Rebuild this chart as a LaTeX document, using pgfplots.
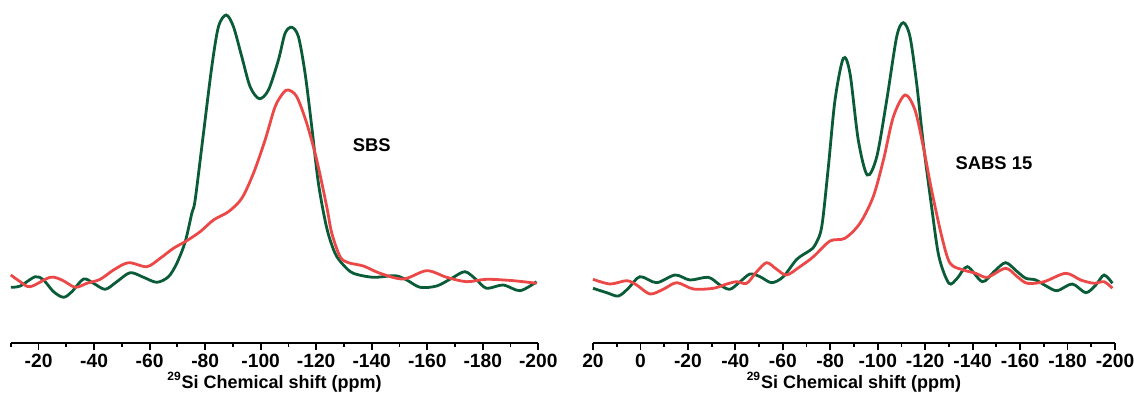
\documentclass[border=0pt]{standalone}
\usepackage{fontspec}
\setmainfont{Liberation Sans}
\usepackage{pgfplots}
\pgfplotsset{compat=1.18}
\definecolor{sgreen}{RGB}{10,92,56}
\definecolor{sred}{RGB}{236,72,72}

\pgfplotsset{nmr/.style={
  scale only axis, height=171.5pt, ymin=0, ymax=343,
  x dir=reverse, hide y axis, axis x line*=bottom,
  xmin=-200,
  tick align=outside, major tick length=3.5pt, minor tick length=2pt,
  x axis line style={line width=1pt},
  xtick style={line width=0.9pt, black},
  minor tick style={line width=0.9pt, black},
  xticklabel style={font=\bfseries\fontsize{9.6}{11}\selectfont, yshift=1.5pt},
  xlabel style={font=\bfseries\fontsize{9}{10}\selectfont, yshift=4.5pt},
  xlabel={\textsuperscript{29}Si Chemical shift (ppm)},
  every axis plot/.append style={line width=1.4pt, smooth, no marks},
  clip=false,
}}

\begin{document}
\begin{tikzpicture}
\useasboundingbox (0,0) rectangle (567pt,200pt);
\begin{axis}[nmr, at={(5.4pt,28.5pt)}, anchor=south west, width=263.75pt,
  xmax=-10,
  xtick={-20,-40,-60,-80,-100,-120,-140,-160,-180,-200},
  xticklabels={-20,-40,-60,-80,-100,-120,-140,-160,-180,-200},
  minor xtick={-10,-30,-50,-70,-90,-110,-130,-150,-170,-190}]
\addplot[sgreen] coordinates {
(-10,55.7) (-13.4,57) (-18.8,66.3) (-21.8,63) (-25.4,51.3) (-29.0,45.7)
(-32.0,51.3) (-36.2,64) (-39.8,59.7) (-44.0,53.7) (-48.2,61.3) (-53.0,70.3)
(-57.8,65.7) (-62.6,60.7) (-66.8,66.3) (-69.8,79.7) (-72.8,101) (-75.2,129.7)
(-76.4,143) (-79.4,209.7) (-82.4,276.3) (-84.8,316.3) (-87.6,328) (-90.2,316.3)
(-93.2,286.3) (-96.2,256.3) (-99.5,244.3) (-102.8,253) (-106.4,283) (-108.8,309.7)
(-111.2,315.7) (-113.6,306.3) (-116.0,269.7) (-118.4,216.3) (-120.8,159.7)
(-123.8,115) (-126.8,89.7) (-129.8,78) (-133.4,69.7) (-140.6,65.7) (-148.4,67.3)
(-152.6,63) (-157.4,55.7) (-163.4,57) (-168.8,64.7) (-173.6,71.3) (-177.8,63)
(-181.4,54.7) (-187.4,58) (-193.4,52.3) (-199.4,61.3)
};
\addplot[sred] coordinates {
(-10,68) (-13.4,61.3) (-17.0,56.3) (-24.2,65.7) (-28.4,63) (-33.2,55.7)
(-37.4,59.7) (-42.2,63.7) (-47.0,73) (-52.4,80.3) (-59.0,76.3) (-63.8,84.7)
(-68.6,94.7) (-73.4,102.3) (-78.2,111.3) (-83.0,123) (-88.4,131.3) (-93.2,144.7)
(-97.4,169.7) (-101.6,203) (-105.2,236.3) (-108.2,250.3) (-110.0,253) (-113.0,246.3)
(-116.6,219.7) (-120.2,183) (-123.8,136.3) (-125.6,110) (-128.6,86.3) (-131.6,80.3)
(-137.0,77) (-143.0,69.7) (-151.4,64) (-159.8,72.3) (-167.0,65.7) (-174.2,61.3)
(-181.4,63.7) (-191.0,62.3) (-199.4,59.7)
};
\node[font=\bfseries\fontsize{9.2}{11}\selectfont] at (axis cs:-140,198) {SBS};
\end{axis}

\begin{axis}[nmr, at={(296.5pt,28.5pt)}, anchor=south west, width=261pt,
  xmax=20,
  xtick={20,0,-20,-40,-60,-80,-100,-120,-140,-160,-180,-200},
  xticklabels={20,0,-20,-40,-60,-80,-100,-120,-140,-160,-180,-200},
  minor xtick={10,-10,-30,-50,-70,-90,-110,-130,-150,-170,-190}]
\addplot[sgreen] coordinates {
(20,54.7) (14.2,50.3) (9.3,47) (5.1,54.7) (0.2,66.3) (-6.8,60.3) (-14.6,68)
(-20.9,63) (-28.6,65.7) (-33.5,58) (-37.7,53.7) (-42.0,61.3) (-46.2,69)
(-50.4,66.3) (-55.3,60.3) (-60.2,66.3) (-65.9,83.7) (-71.5,92.7) (-73.6,98)
(-76.4,116.3) (-79.2,176.3) (-82.0,243) (-85.5,284.7) (-88.3,269.7) (-91.8,203)
(-95.6,168) (-99.6,186.3) (-103.8,243) (-108.0,306.3) (-110.8,320.3) (-113.6,306.3)
(-116.4,259.7) (-119.2,199.7) (-122.7,136.3) (-125.8,86.3) (-130.0,59.7)
(-133.5,64.7) (-137.8,76.3) (-144.1,61.3) (-149.0,71.3) (-153.9,80.3)
(-158.8,71.3) (-162.4,64.7) (-166.6,63) (-171.5,56.3) (-175.7,52.3) (-182.0,59)
(-187.7,50.3) (-191.9,58) (-195.4,68) (-198.9,59.7)
};
\addplot[sred] coordinates {
(20,63.7) (12.8,59) (5.8,62.3) (1.6,58) (-4.0,49) (-9.6,53.7) (-15.3,60.3)
(-22.3,54) (-30.7,54.7) (-36.4,59) (-40.6,61.3) (-44.8,59.7) (-49.0,71.3)
(-53.2,80.3) (-57.4,73.7) (-61.6,68) (-67.2,76.3) (-72.9,86.3) (-79.9,102)
(-86.2,104.7) (-92.5,119.7) (-98.1,146.3) (-102.4,183) (-106.6,226.3)
(-111.5,248) (-115.7,233) (-119.2,196.3) (-122.7,153) (-127.0,106.3)
(-130.5,79.7) (-136.1,73) (-141.3,69.7) (-146.2,65.7) (-153.9,74.7)
(-158.8,66.3) (-163.0,59.7) (-170.1,61.3) (-179.2,69.7) (-185.5,63)
(-191.2,59.7) (-195.4,61.3) (-198.9,54.7)
};
\node[font=\bfseries\fontsize{9.2}{11}\selectfont] at (axis cs:-149,180) {SABS 15};
\end{axis}
\end{tikzpicture}
\end{document}
